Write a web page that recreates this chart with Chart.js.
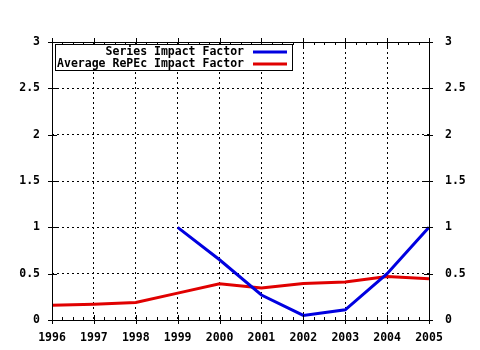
<!DOCTYPE html>
<html lang="en">
<head>
    <meta charset="UTF-8">
    <title>Impact Factor</title>
    <script src="https://cdn.jsdelivr.net/npm/chart.js"></script>
    <style>
        body {
            margin: 0;
            background-color: #ffffff;
        }
        canvas {
            display: block;
        }
    </style>
</head>
<body>
    <canvas id="ifChart" width="480" height="350"></canvas>

    <script>
        // Werte
        const years = [1996, 1997, 1998, 1999, 2000, 2001, 2002, 2003, 2004, 2005];
        const seriesImpact = [null, null, null, 1.0, 0.65, 0.27, 0.05, 0.11, 0.5, 1.0];
        const repecImpact = [0.16, 0.17, 0.19, 0.29, 0.39, 0.345, 0.395, 0.41, 0.47, 0.445];
        const yTicks = [0, 0.5, 1, 1.5, 2, 2.5, 3];
        const seriesLabels = ['Series Impact Factor', 'Average RePEc Impact Factor'];

        const FONT = { family: '"DejaVu Sans Mono", monospace', size: 11.5, weight: 'bold' };

        function toPoints(values) {
            return years.map((yr, i) => ({ x: yr, y: values[i] }));
        }

        function fmtY(v) {
            return String(v);
        }

        // Rahmen, Tickmarken und Legende im gnuplot-Stil
        const framePlugin = {
            id: 'frame',
            afterDatasetsDraw(chart) {
                const ctx = chart.ctx;
                const a = chart.chartArea;
                const xs = chart.scales.x;
                const ys = chart.scales.y;
                ctx.save();
                ctx.strokeStyle = '#000';
                ctx.lineWidth = 1;
                ctx.beginPath();
                ctx.rect(Math.round(a.left) + 0.5, Math.round(a.top) + 0.5,
                    Math.round(a.right - a.left), Math.round(a.bottom - a.top));
                ctx.stroke();

                ctx.beginPath();
                // x Haupt- und Nebenticks
                for (let i = 0; i < years.length; i++) {
                    const px = Math.round(xs.getPixelForValue(years[i])) + 0.5;
                    ctx.moveTo(px, a.bottom + 4);
                    ctx.lineTo(px, a.bottom - 5);
                    ctx.moveTo(px, a.top - 4);
                    ctx.lineTo(px, a.top + 5);
                    if (i < years.length - 1) {
                        for (let q = 1; q < 4; q++) {
                            const mx = Math.round(xs.getPixelForValue(years[i] + q / 4)) + 0.5;
                            ctx.moveTo(mx, a.bottom);
                            ctx.lineTo(mx, a.bottom - 3);
                            ctx.moveTo(mx, a.top);
                            ctx.lineTo(mx, a.top + 3);
                        }
                    }
                }
                // y Ticks links und rechts
                yTicks.forEach(v => {
                    const py = Math.round(ys.getPixelForValue(v)) + 0.5;
                    ctx.moveTo(a.left - 4, py);
                    ctx.lineTo(a.left + 5, py);
                    ctx.moveTo(a.right + 4, py);
                    ctx.lineTo(a.right - 5, py);
                });
                ctx.stroke();

                // Legende
                const box = { left: 55.5, top: 44.5, right: 292.5, bottom: 70.5 };
                ctx.fillStyle = '#fff';
                ctx.fillRect(box.left, box.top, box.right - box.left, box.bottom - box.top);
                ctx.strokeRect(box.left, box.top, box.right - box.left, box.bottom - box.top);
                ctx.font = `${FONT.weight} ${FONT.size}px ${FONT.family}`;
                ctx.textAlign = 'right';
                ctx.textBaseline = 'middle';
                chart.data.datasets.forEach((ds, i) => {
                    const rowY = 52 + i * 12;
                    ctx.fillStyle = '#000';
                    ctx.fillText(ds.label, 244, rowY);
                    ctx.strokeStyle = ds.borderColor;
                    ctx.lineWidth = 3;
                    ctx.beginPath();
                    ctx.moveTo(253, rowY);
                    ctx.lineTo(287, rowY);
                    ctx.stroke();
                });
                ctx.restore();
            }
        };

        const ctx = document.getElementById('ifChart').getContext('2d');
        const chart = new Chart(ctx, {
            type: 'line',
            data: {
                datasets: [{
                    label: seriesLabels[0],
                    data: toPoints(seriesImpact),
                    borderColor: '#0000e0',
                    borderWidth: 3,
                    pointRadius: 0,
                    tension: 0,
                    spanGaps: false
                }, {
                    label: seriesLabels[1],
                    data: toPoints(repecImpact),
                    borderColor: '#e00000',
                    borderWidth: 3,
                    pointRadius: 0,
                    tension: 0
                }]
            },
            options: {
                responsive: false,
                animation: false,
                layout: { padding: { top: 42, left: 0, right: 0, bottom: 0 } },
                plugins: {
                    legend: { display: false },
                    tooltip: { enabled: false }
                },
                scales: {
                    x: {
                        type: 'linear',
                        min: years[0],
                        max: years[years.length - 1],
                        afterFit: s => { s.height = 30; },
                        afterBuildTicks: s => { s.ticks = years.map(v => ({ value: v })); },
                        ticks: {
                            color: '#000',
                            font: FONT,
                            padding: 11,
                            maxRotation: 0,
                            autoSkip: false,
                            callback: v => String(v)
                        },
                        grid: {
                            color: '#000',
                            lineWidth: 1,
                            drawTicks: false
                        },
                        border: { display: false, dash: [2, 3] }
                    },
                    y: {
                        position: 'left',
                        min: 0,
                        max: 3,
                        afterFit: s => { s.width = 52; },
                        afterBuildTicks: s => { s.ticks = yTicks.map(v => ({ value: v })); },
                        ticks: {
                            color: '#000',
                            font: FONT,
                            padding: 12,
                            callback: fmtY
                        },
                        grid: {
                            color: '#000',
                            lineWidth: 1,
                            drawTicks: false
                        },
                        border: { display: false, dash: [2, 3] }
                    },
                    y2: {
                        position: 'right',
                        min: 0,
                        max: 3,
                        afterFit: s => { s.width = 51; },
                        afterBuildTicks: s => { s.ticks = yTicks.map(v => ({ value: v })); },
                        ticks: {
                            color: '#000',
                            font: FONT,
                            padding: 16,
                            callback: fmtY
                        },
                        grid: { display: false, drawTicks: false },
                        border: { display: false }
                    }
                }
            },
            plugins: [framePlugin]
        });
    </script>
</body>
</html>
